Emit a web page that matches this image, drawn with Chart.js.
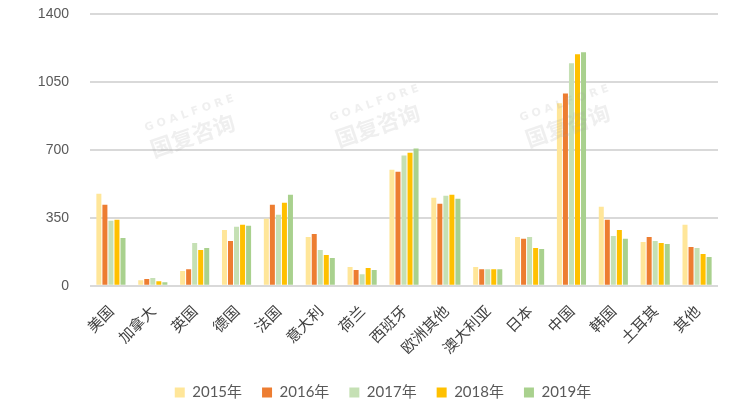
<!DOCTYPE html>
<html>
<head>
<meta charset="utf-8">
<script src="https://cdn.jsdelivr.net/npm/chart.js@4.4.0/dist/chart.umd.min.js"></script>
<style>
html,body{margin:0;padding:0;background:#fff;}
#wrap{width:752px;height:405px;position:relative;}
</style>
</head>
<body>
<div id="wrap"><canvas id="c" width="752" height="405"></canvas></div>
<script>
const categories = ["美国","加拿大","英国","德国","法国","意大利","荷兰","西班牙","欧洲其他","澳大利亚","日本","中国","韩国","土耳其","其他"];
const seriesNames = ["2015年","2016年","2017年","2018年","2019年"];
const v2015 = [474, 29, 76, 288, 345, 252, 97, 598, 454, 97, 252, 940, 407, 226, 314];
const v2016 = [417, 35, 86, 231, 417, 267, 81, 588, 423, 86, 242, 991, 340, 252, 200];
const v2017 = [335, 40, 221, 304, 366, 185, 60, 671, 464, 86, 252, 1147, 257, 231, 195];
const v2018 = [340, 24, 185, 314, 428, 159, 92, 686, 469, 86, 195, 1193, 288, 221, 164];
const v2019 = [247, 19, 195, 309, 469, 143, 81, 707, 448, 86, 190, 1203, 242, 216, 148];
const yTicks = [0, 350, 700, 1050, 1400];
const colors = ["#FFE699","#ED7D31","#C5E0B4","#FFC000","#A9D18E"];
const watermarkTexts = ["GOALFORE","国复咨询"];

const allValues = [v2015, v2016, v2017, v2018, v2019];
const datasets = allValues.map((vals, i) => ({
  label: seriesNames[i],
  data: vals,
  backgroundColor: colors[i],
  borderWidth: 0,
  categoryPercentage: 0.72,
  barPercentage: 0.83
}));

const watermark = {
  id: 'watermark',
  afterDatasetsDraw(chart) {
    const ctx = chart.ctx;
    const spots = [[190, 128], [375, 118], [565, 118]];
    ctx.save();
    ctx.fillStyle = 'rgba(160,160,160,0.17)';
    ctx.textAlign = 'center';
    ctx.textBaseline = 'middle';
    spots.forEach(([x, y]) => {
      ctx.save();
      ctx.translate(x, y);
      ctx.rotate(-0.33);
      ctx.font = 'bold 11px "DejaVu Sans"';
      ctx.fillText(watermarkTexts[0].split('').join(' '), 4, -14);
      ctx.font = 'bold 22px "Noto Sans CJK SC"';
      ctx.fillText(watermarkTexts[1], 0, 8);
      ctx.restore();
    });
    ctx.restore();
  }
};

const legendShift = {
  id: 'legendShift',
  afterLayout(chart) {
    if (chart.legend) { chart.legend.left += 24; chart.legend.right += 24; }
  }
};

new Chart(document.getElementById('c'), {
  type: 'bar',
  data: { labels: categories, datasets },
  plugins: [watermark, legendShift],
  options: {
    responsive: false,
    animation: false,
    devicePixelRatio: 1,
    layout: { padding: { left: 0, right: 34, top: 14, bottom: -5 } },
    plugins: {
      legend: {
        position: 'bottom',
        labels: {
          boxWidth: 10,
          boxHeight: 10,
          padding: 20,
          color: '#595959',
          font: { family: 'Lato, "Noto Sans CJK SC"', size: 15 }
        }
      },
      tooltip: { enabled: false }
    },
    scales: {
      x: {
        grid: { display: false },
        border: { display: false },
        ticks: {
          color: '#404040',
          font: { family: '"Noto Sans CJK SC"', size: 15 },
          maxRotation: 45,
          minRotation: 45,
          autoSkip: false,
          padding: 8
        }
      },
      y: {
        min: 0,
        max: 1400,
        afterBuildTicks(scale) { scale.ticks = yTicks.map(v => ({ value: v })); },
        afterFit(scale) { scale.width = 90; scale.paddingTop = 0; scale.paddingBottom = 0; },
        grid: { color: '#D9D9D9', lineWidth: 2, drawTicks: false },
        border: { display: false },
        ticks: {
          color: '#595959',
          padding: 21,
          font: { family: '"Liberation Sans"', size: 14 },
          callback: (v) => String(v)
        }
      }
    }
  }
});
</script>
</body>
</html>
